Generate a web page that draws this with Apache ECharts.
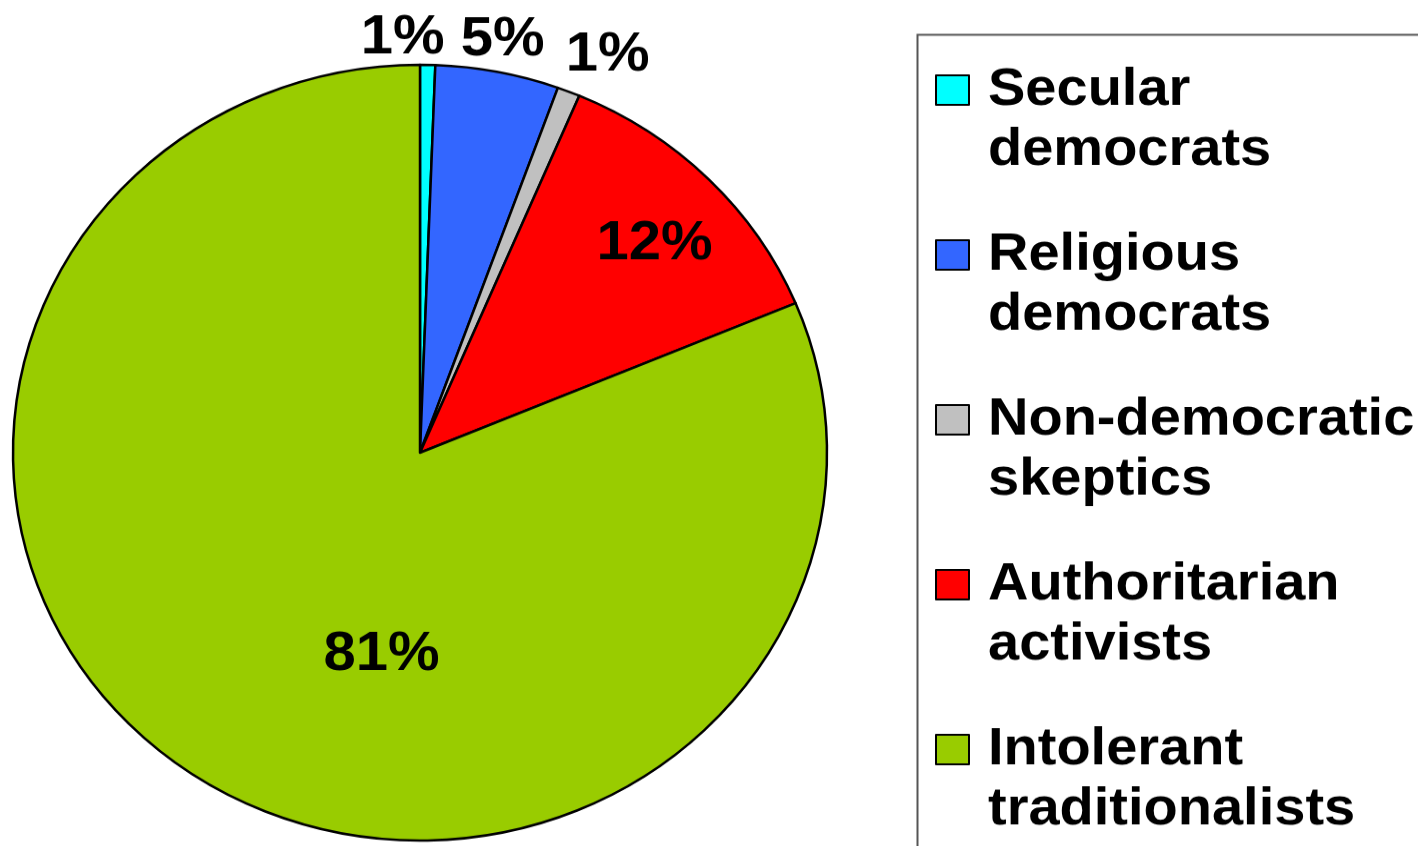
<!DOCTYPE html>
<html>
<head>
<meta charset="utf-8">
<script src="https://cdn.jsdelivr.net/npm/echarts@6/dist/echarts.min.js"></script>
<style>
  html, body { margin: 0; padding: 0; background: #fff; overflow: hidden; }
  /* the source picture is a little squashed vertically, so the whole chart is too */
  #chart { width: 1418px; height: 888px; transform: scaleY(0.953); transform-origin: 0 0; }
</style>
</head>
<body>
<div id="chart"></div>
<script>
// group names and shares
var groups = ['Secular democrats', 'Religious democrats', 'Non-democratic skeptics', 'Authoritarian activists', 'Intolerant traditionalists'];
var shares = [0.6, 4.9, 0.9, 12.3, 81.3];
var colors = ['#00FFFF', '#3366FF', '#C0C0C0', '#FF0000', '#99CC00'];
// small slices get their labels outside the pie
var labelOutside = [true, true, true, false, false];
// nudges for the labels (px) from where echarts puts them
var labelShift = [[-72, -22], [-43, -28], [-10, -33], [88, -73], [76, 40]];

var chart = echarts.init(document.getElementById('chart'));

var data = groups.map(function (name, i) {
  return {
    name: name,
    value: shares[i],
    itemStyle: { color: colors[i] },
    label: { position: labelOutside[i] ? 'outside' : 'inside' }
  };
});

var option = {
  animation: false,
  backgroundColor: '#fff',
  graphic: [{
    type: 'rect',
    left: 915,
    top: 34,
    shape: { width: 620, height: 900 },
    style: { fill: 'none', stroke: '#555', lineWidth: 2 },
    z: -1
  }],
  legend: {
    orient: 'vertical',
    left: 935,
    top: 0,
    padding: 0,
    itemWidth: 33,
    itemHeight: 31,
    itemGap: -16,
    icon: 'rect',
    itemStyle: { borderColor: '#000', borderWidth: 2 },
    // blank first line keeps the swatch level with the first word
    formatter: function (name) {
      return '\n' + name.replace(' ', '\n');
    },
    textStyle: {
      fontFamily: 'Liberation Sans, Arial, sans-serif',
      fontWeight: 'bold',
      fontSize: 56,
      lineHeight: 63,
      color: '#000',
      padding: [0, 0, 0, 14]
    },
    data: groups
  },
  series: [{
    type: 'pie',
    center: [420, 475],
    radius: 407,
    startAngle: 90,
    clockwise: true,
    avoidLabelOverlap: false,
    itemStyle: { borderColor: '#000', borderWidth: 2.5 },
    label: {
      show: true,
      color: '#000',
      fontFamily: 'Liberation Sans, Arial, sans-serif',
      fontWeight: 'bold',
      fontSize: 58,
      formatter: function (p) {
        return Math.round(p.value) + '%';
      }
    },
    labelLine: { show: false, length: 6, length2: 0 },
    labelLayout: function (params) {
      var s = labelShift[params.dataIndex];
      return { dx: s[0], dy: s[1] };
    },
    emphasis: { disabled: true },
    data: data
  }]
};

chart.setOption(option);
</script>
</body>
</html>
